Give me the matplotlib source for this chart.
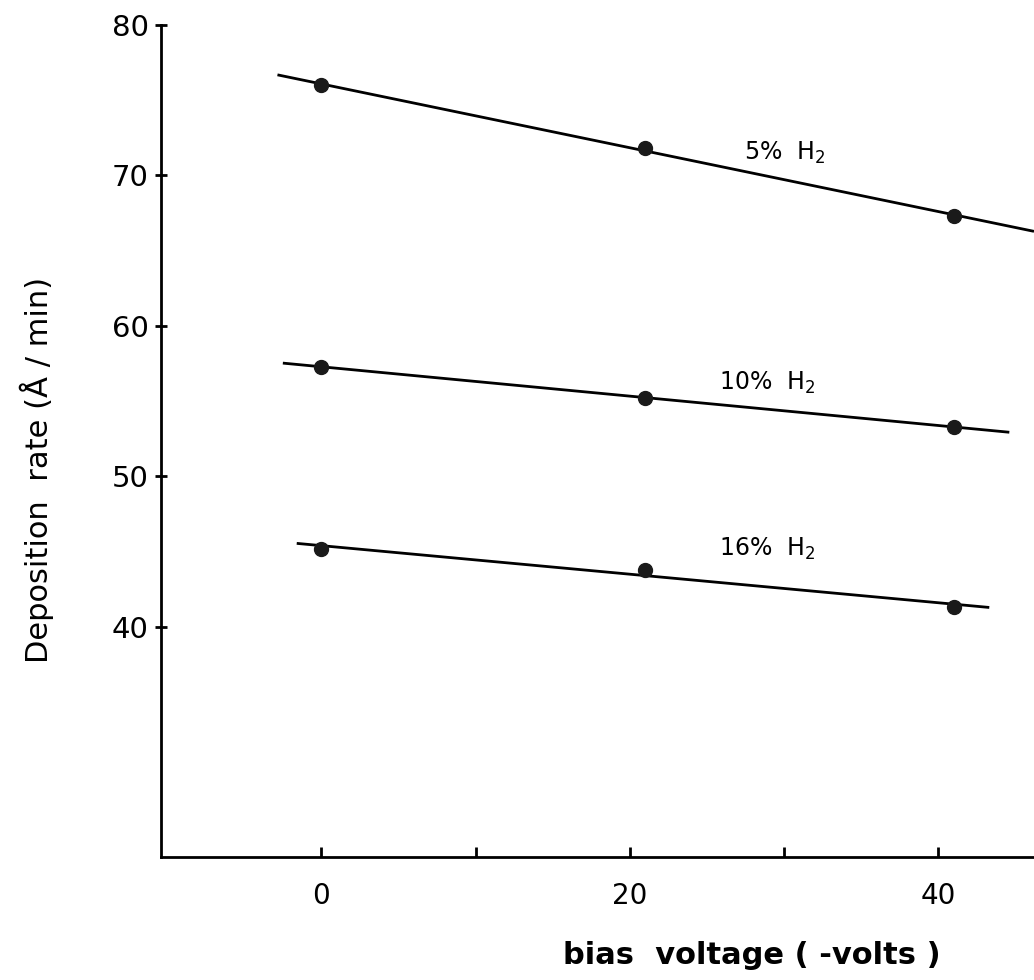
import matplotlib
matplotlib.use("Agg")
import matplotlib.pyplot as plt
import numpy as np

# ---- data ----
bias = [0, 21, 41]                      # bias voltage (-volts)
rate_5 = [76.0, 71.8, 67.3]             # 5% H2
rate_10 = [57.3, 55.2, 53.3]            # 10% H2
rate_16 = [45.2, 43.8, 41.3]            # 16% H2
series_labels = ["5%  H$_2$", "10%  H$_2$", "16%  H$_2$"]
fit_ranges = [(-2.85, 46.2), (-2.5, 44.6), (-1.6, 43.3)]   # extent of drawn fit lines
x_ticks = [0, 10, 20, 30, 40]
x_ticklabels = ["0", "", "20", "", "40"]
y_ticks = [40, 50, 60, 70, 80]
y_ticklabels = ["40", "50", "60", "70", "80"]

plt.rcParams['font.family'] = ['DejaVu Sans']

fig = plt.figure(figsize=(10.34, 9.8), dpi=100)
ax = fig.add_axes([161 / 1034, 123 / 980, (1034 - 161) / 1034, (857 - 25) / 980])
ax.set_xlim(-10.4, 46.2)
ax.set_ylim(24.7, 80)

series = [rate_5, rate_10, rate_16]
label_pos = [(27.4, 71.5), (25.8, 56.2), (25.8, 45.2)]
for ys, lab, (x0, x1), (lx, ly) in zip(series, series_labels, fit_ranges, label_pos):
    coef = np.polyfit(bias, ys, 1)
    xx = np.array([x0, x1])
    ax.plot(xx, np.polyval(coef, xx), color="black", lw=2.0, solid_capstyle="butt", clip_on=False)
    ax.plot(bias, ys, "o", color="#1a1a1a", markersize=10, zorder=3)
    ax.text(lx, ly, lab, fontsize=17, va="center", ha="left", color="black")

for s in ["top", "right"]:
    ax.spines[s].set_visible(False)
ax.spines["left"].set_linewidth(2.0)
ax.spines["bottom"].set_linewidth(2.0)

ax.set_xticks(x_ticks)
ax.set_xticklabels(x_ticklabels, fontsize=20)
ax.tick_params(axis="x", direction="in", length=7, width=2, pad=18)
ax.set_yticks(y_ticks)
ax.set_yticklabels(y_ticklabels, fontsize=21)
ax.tick_params(axis="y", direction="inout", length=8, width=2, pad=5)

fig.text(752 / 1034, 1 - 955 / 980, "bias  voltage ( -volts )", fontsize=22,
         fontweight="bold", ha="center", va="center")
fig.text(37 / 1034, 1 - 470 / 980, "Deposition  rate (Å / min)", fontsize=22,
         rotation=90, ha="center", va="center")

fig.savefig("out.png", dpi=100)
